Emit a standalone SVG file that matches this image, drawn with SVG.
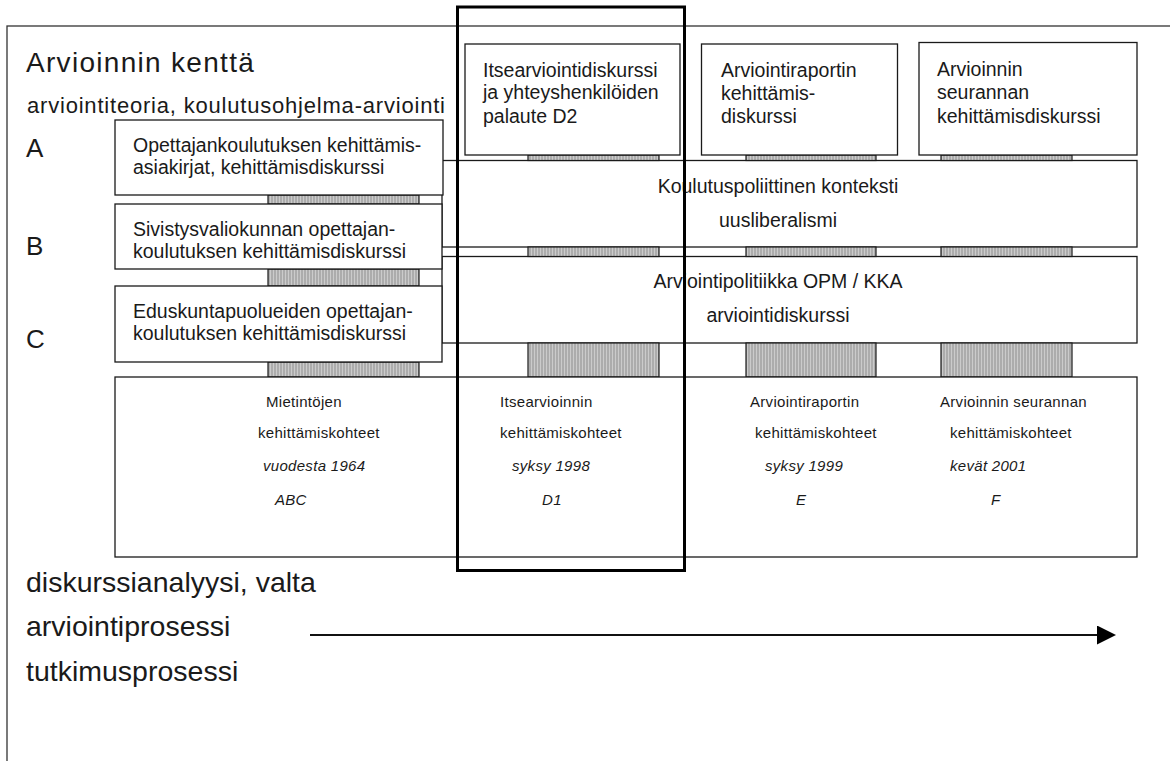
<svg xmlns="http://www.w3.org/2000/svg" width="1170" height="761" viewBox="0 0 1170 761">
  <defs>
    <!-- fine vertical stripes used for the grey link bars -->
    <pattern id="stripes" width="3" height="4" patternUnits="userSpaceOnUse">
      <rect width="3" height="4" fill="#acacac"/>
      <rect width="1" height="4" fill="#cbcbcb"/>
    </pattern>
    <marker id="arrowhead" markerWidth="19" markerHeight="19" refX="1" refY="9.5" orient="auto" markerUnits="userSpaceOnUse" viewBox="0 0 19 19">
      <path d="M0,0 L19,9.5 L0,19 Z" fill="#000"/>
    </marker>
    <style>
      text { font-family: "Liberation Sans", Arial, sans-serif; fill: #1a1a1a; }
      .box { fill: #fff; stroke: #1a1a1a; stroke-width: 1.3; }
      .bar { fill: url(#stripes); stroke: #1a1a1a; stroke-width: 1.2; }
      .frame { fill: none; stroke: #333; stroke-width: 1.3; }
      .focus { fill: none; stroke: #000; stroke-width: 3; }
      .title { font-size: 28px; letter-spacing: 1.3px; }
      .sub { font-size: 22px; letter-spacing: 0.8px; }
      .lbl { font-size: 26px; }
      .big { font-size: 28.5px; }
      .t { font-size: 19.5px; }
      .s { font-size: 15px; letter-spacing: 0.3px; }
      .i { font-style: italic; }
      .mid { text-anchor: middle; }
    </style>
  </defs>

  <rect width="1170" height="761" fill="#fff"/>

  <!-- outer field frame (open to the right and bottom) -->
  <rect class="frame" x="7" y="26" width="1200" height="800"/>

  <g id="heading">
    <text class="title" x="26" y="72">Arvioinnin kenttä</text>
    <text class="sub" x="27" y="113">arviointiteoria, koulutusohjelma-arviointi</text>
    <text class="lbl" x="26" y="157">A</text>
    <text class="lbl" x="26" y="255">B</text>
    <text class="lbl" x="26" y="348">C</text>
  </g>

  <!-- wide context layers -->
  <g id="context">
    <rect class="box" x="442" y="160.5" width="695" height="86.5"/>
    <text class="t mid" x="778" y="193">Koulutuspoliittinen konteksti</text>
    <text class="t mid" x="778" y="227">uusliberalismi</text>
  </g>
  <g id="policy">
    <rect class="box" x="442" y="256.5" width="695" height="86.5"/>
    <text class="t mid" x="778" y="288">Arviointipolitiikka OPM / KKA</text>
    <text class="t mid" x="778" y="322">arviointidiskurssi</text>
  </g>

  <!-- connecting bars between layers, and the process arrow -->
  <g id="connectors">
    <rect class="bar" x="268" y="195" width="151" height="9"/>
    <rect class="bar" x="268" y="269" width="151" height="17"/>
    <rect class="bar" x="268" y="362" width="151" height="15"/>

    <rect class="bar" x="528" y="155" width="131" height="5.5"/>
    <rect class="bar" x="746" y="155" width="130" height="5.5"/>
    <rect class="bar" x="941" y="155" width="131" height="5.5"/>

    <rect class="bar" x="528" y="247" width="131" height="9.5"/>
    <rect class="bar" x="746" y="247" width="130" height="9.5"/>
    <rect class="bar" x="941" y="247" width="131" height="9.5"/>

    <rect class="bar" x="528" y="343" width="131" height="34"/>
    <rect class="bar" x="746" y="343" width="130" height="34"/>
    <rect class="bar" x="941" y="343" width="131" height="34"/>

    <line x1="310" y1="635" x2="1098" y2="635" stroke="#111" stroke-width="2.2" marker-end="url(#arrowhead)"/>
  </g>

  <!-- discourse boxes on the left -->
  <g id="nodeA">
    <rect class="box" x="115" y="120" width="328" height="75"/>
    <text class="t" x="133" y="152">Opettajankoulutuksen kehittämis-</text>
    <text class="t" x="133" y="174">asiakirjat, kehittämisdiskurssi</text>
  </g>
  <g id="nodeB">
    <rect class="box" x="115" y="204" width="327" height="65"/>
    <text class="t" x="133" y="236">Sivistysvaliokunnan opettajan-</text>
    <text class="t" x="133" y="258">koulutuksen kehittämisdiskurssi</text>
  </g>
  <g id="nodeC">
    <rect class="box" x="115" y="286" width="327" height="76"/>
    <text class="t" x="133" y="318">Eduskuntapuolueiden opettajan-</text>
    <text class="t" x="133" y="340">koulutuksen kehittämisdiskurssi</text>
  </g>

  <!-- discourse boxes along the top -->
  <g id="nodeD2">
    <rect class="box" x="465" y="44" width="215" height="111"/>
    <text class="t" x="483" y="77">Itsearviointidiskurssi</text>
    <text class="t" x="483" y="99">ja yhteyshenkilöiden</text>
    <text class="t" x="483" y="123">palaute D2</text>
  </g>
  <g id="nodeReport">
    <rect class="box" x="701.5" y="44" width="196" height="111"/>
    <text class="t" x="721" y="77">Arviointiraportin</text>
    <text class="t" x="721" y="100">kehittämis-</text>
    <text class="t" x="721" y="123">diskurssi</text>
  </g>
  <g id="nodeFollowup">
    <rect class="box" x="919" y="42.5" width="218" height="112.5"/>
    <text class="t" x="937" y="76">Arvioinnin</text>
    <text class="t" x="937" y="99">seurannan</text>
    <text class="t" x="937" y="123">kehittämisdiskurssi</text>
  </g>

  <!-- development targets -->
  <g id="targets">
    <rect class="box" x="115" y="377" width="1022" height="180"/>
    <text class="s" x="266" y="407">Mietintöjen</text>
    <text class="s" x="258" y="438">kehittämiskohteet</text>
    <text class="s i" x="263" y="471">vuodesta 1964</text>
    <text class="s i" x="275" y="505">ABC</text>

    <text class="s" x="500" y="407">Itsearvioinnin</text>
    <text class="s" x="500" y="438">kehittämiskohteet</text>
    <text class="s i" x="512" y="471">syksy 1998</text>
    <text class="s i" x="542" y="505">D1</text>

    <text class="s" x="750" y="407">Arviointiraportin</text>
    <text class="s" x="755" y="438">kehittämiskohteet</text>
    <text class="s i" x="765" y="471">syksy 1999</text>
    <text class="s i" x="796" y="505">E</text>

    <text class="s" x="940" y="407">Arvioinnin seurannan</text>
    <text class="s" x="950" y="438">kehittämiskohteet</text>
    <text class="s i" x="950" y="471">kevät 2001</text>
    <text class="s i" x="991" y="505">F</text>
  </g>

  <g id="process">
    <text class="big" x="26" y="592">diskurssianalyysi, valta</text>
    <text class="big" x="26" y="636">arviointiprosessi</text>
    <text class="big" x="26" y="681">tutkimusprosessi</text>
  </g>

  <!-- highlighted self-evaluation column -->
  <rect id="focus" class="focus" x="457.5" y="7" width="227" height="563.5"/>
</svg>
